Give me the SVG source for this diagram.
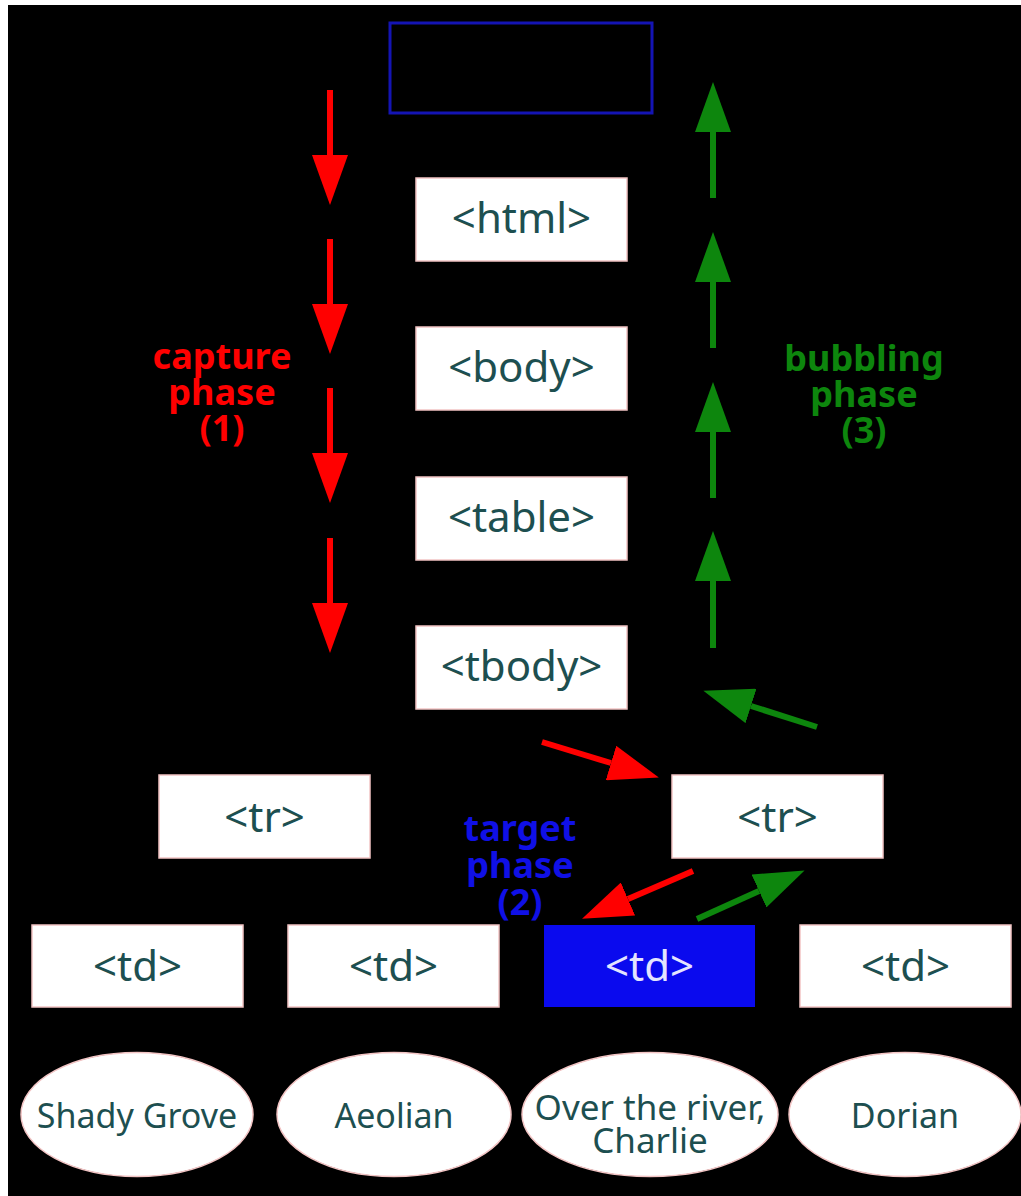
<svg xmlns="http://www.w3.org/2000/svg" width="1021" height="1196" viewBox="0 0 1021 1196">
  <style>
    .box { fill: #ffffff; stroke: #f2c4c4; stroke-width: 1.5; }
    .leaf { fill: #ffffff; stroke: #f2c4c4; stroke-width: 1.5; }
    .tag { font-family: "Noto Sans", "DejaVu Sans", sans-serif; font-size: 42px; fill: #1d4f50; text-anchor: middle; }
    .song { font-family: "Noto Sans", "DejaVu Sans", sans-serif; font-size: 34px; fill: #1d4f50; text-anchor: middle; }
    .phase { font-family: "Noto Sans", "DejaVu Sans", sans-serif; font-size: 36px; font-weight: bold; text-anchor: middle; }
    .red { stroke: #ff0000; stroke-width: 6; fill: none; }
    .green { stroke: #0d860d; stroke-width: 6; fill: none; }
  </style>
  <defs>
    <marker id="headRed" markerUnits="userSpaceOnUse" markerWidth="50" markerHeight="36" refX="0" refY="18" orient="auto">
      <path d="M0,0 L50,18 L0,36 Z" fill="#ff0000"/>
    </marker>
    <marker id="headGreen" markerUnits="userSpaceOnUse" markerWidth="50" markerHeight="36" refX="0" refY="18" orient="auto">
      <path d="M0,0 L50,18 L0,36 Z" fill="#0d860d"/>
    </marker>
  </defs>

  <!-- page -->
  <rect x="0" y="0" width="1021" height="1196" fill="#ffffff"/>
  <rect x="8" y="5" width="1013" height="1191" fill="#000000"/>

  <!-- document node -->
  <g id="document">
    <rect x="390" y="23" width="262" height="90" fill="none" stroke="#1414b4" stroke-width="3"/>
  </g>

  <g id="html"><rect class="box" x="416" y="178" width="211" height="83"/><text class="tag" x="521.5" y="233">&lt;html&gt;</text></g>
  <g id="body"><rect class="box" x="416" y="327" width="211" height="83"/><text class="tag" x="521.5" y="382">&lt;body&gt;</text></g>
  <g id="table"><rect class="box" x="416" y="477" width="211" height="83"/><text class="tag" x="521.5" y="532">&lt;table&gt;</text></g>
  <g id="tbody"><rect class="box" x="416" y="626" width="211" height="83"/><text class="tag" x="521.5" y="681">&lt;tbody&gt;</text></g>

  <g id="tr1"><rect class="box" x="159" y="775" width="211" height="83"/><text class="tag" x="264.5" y="832">&lt;tr&gt;</text></g>
  <g id="tr2"><rect class="box" x="672" y="775" width="211" height="83"/><text class="tag" x="777.5" y="832">&lt;tr&gt;</text></g>

  <g id="td1"><rect class="box" x="32" y="925" width="211" height="82"/><text class="tag" x="137.5" y="981">&lt;td&gt;</text></g>
  <g id="td2"><rect class="box" x="288" y="925" width="211" height="82"/><text class="tag" x="393.5" y="981">&lt;td&gt;</text></g>
  <g id="td3"><rect x="544" y="925" width="211" height="82" fill="#0a0aee"/><text class="tag" x="649.5" y="981" style="fill:#e4e4ff">&lt;td&gt;</text></g>
  <g id="td4"><rect class="box" x="800" y="925" width="211" height="82"/><text class="tag" x="905.5" y="981">&lt;td&gt;</text></g>

  <g id="song1"><ellipse class="leaf" cx="137" cy="1114.5" rx="116" ry="62"/><text class="song" x="137" y="1128">Shady Grove</text></g>
  <g id="song2"><ellipse class="leaf" cx="394" cy="1114.5" rx="117" ry="62"/><text class="song" x="394" y="1128">Aeolian</text></g>
  <g id="song3"><ellipse class="leaf" cx="650" cy="1114.5" rx="128" ry="62"/><text class="song" x="650" y="1120" style="font-size:35px">Over the river,</text><text class="song" x="650" y="1153" style="font-size:35px">Charlie</text></g>
  <g id="song4"><ellipse class="leaf" cx="905" cy="1114.5" rx="116" ry="62"/><text class="song" x="905" y="1128">Dorian</text></g>

  <!-- phase labels -->
  <g id="capture-label" class="phase" fill="#ff0000">
    <text x="222" y="369">capture</text>
    <text x="222" y="405">phase</text>
    <text x="222" y="441">(1)</text>
  </g>
  <g id="bubbling-label" class="phase" fill="#0d860d">
    <text x="864" y="371">bubbling</text>
    <text x="864" y="407">phase</text>
    <text x="864" y="443">(3)</text>
  </g>
  <g id="target-label" class="phase" fill="#1010e6">
    <text x="520" y="841">target</text>
    <text x="520" y="878">phase</text>
    <text x="520" y="915">(2)</text>
  </g>

  <!-- event flow connectors -->
  <g id="connectors">
    <line class="red" x1="330" y1="90" x2="330" y2="155" marker-end="url(#headRed)"/>
    <line class="red" x1="330" y1="239" x2="330" y2="304" marker-end="url(#headRed)"/>
    <line class="red" x1="330" y1="388" x2="330" y2="453" marker-end="url(#headRed)"/>
    <line class="red" x1="330" y1="538" x2="330" y2="603" marker-end="url(#headRed)"/>

    <line class="green" x1="713" y1="198" x2="713" y2="132" marker-end="url(#headGreen)"/>
    <line class="green" x1="713" y1="348" x2="713" y2="282" marker-end="url(#headGreen)"/>
    <line class="green" x1="713" y1="498" x2="713" y2="432" marker-end="url(#headGreen)"/>
    <line class="green" x1="713" y1="648" x2="713" y2="581" marker-end="url(#headGreen)"/>

    <line class="red" x1="542" y1="742" x2="611" y2="763" marker-end="url(#headRed)"/>
    <line class="green" x1="817" y1="727" x2="751" y2="706" marker-end="url(#headGreen)"/>
    <line class="red" x1="693" y1="871" x2="628" y2="899" marker-end="url(#headRed)"/>
    <line class="green" x1="697" y1="919" x2="759" y2="891" marker-end="url(#headGreen)"/>
  </g>
</svg>
